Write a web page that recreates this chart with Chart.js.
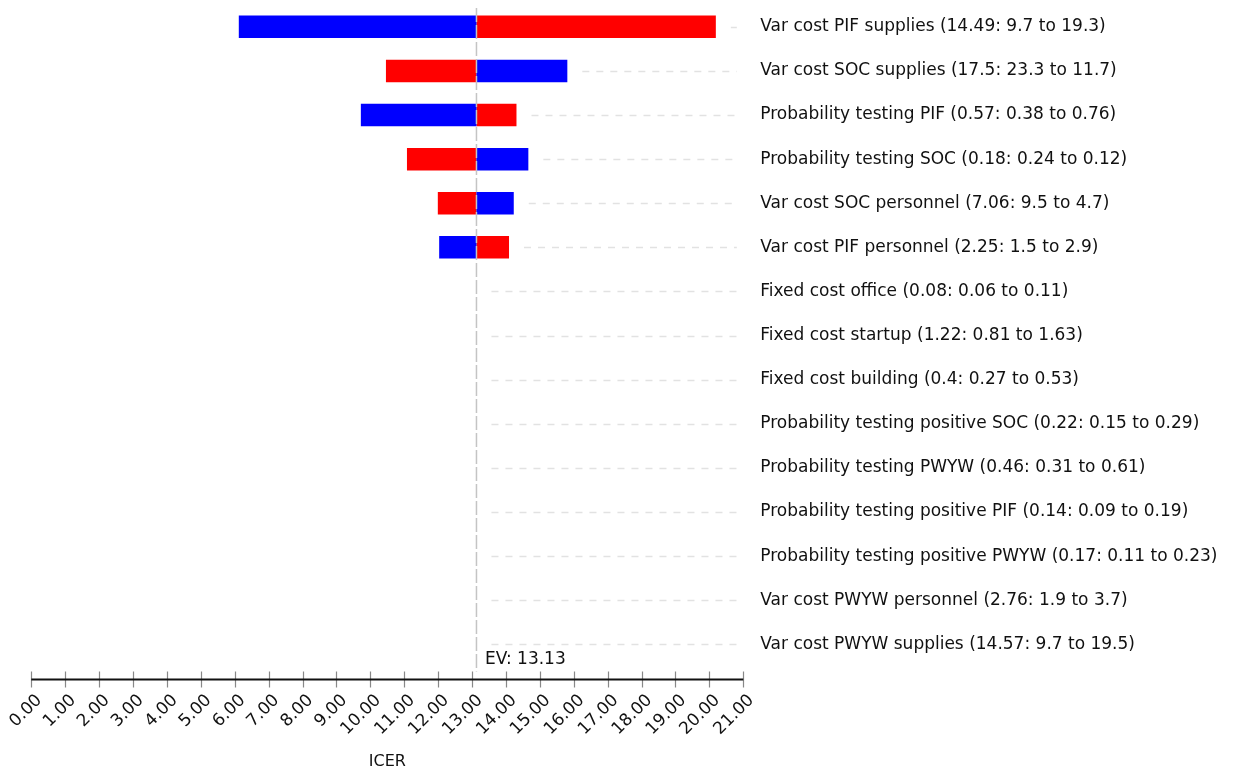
<!DOCTYPE html>
<html><head><meta charset="utf-8">
<script src="https://cdn.jsdelivr.net/npm/chart.js@4/dist/chart.umd.min.js"></script>
<style>html,body{margin:0;padding:0;background:#fff}#wrap{width:1234px;height:774px}</style>
</head><body><div id="wrap"><canvas id="c" width="1234" height="774"></canvas></div>
<script>
// ---- data ----
const paramNames = ['Var cost PIF supplies','Var cost SOC supplies','Probability testing PIF','Probability testing SOC','Var cost SOC personnel','Var cost PIF personnel','Fixed cost office','Fixed cost startup','Fixed cost building','Probability testing positive SOC','Probability testing PWYW','Probability testing positive PIF','Probability testing positive PWYW','Var cost PWYW personnel','Var cost PWYW supplies'];
const baseValues = ['14.49','17.5','0.57','0.18','7.06','2.25','0.08','1.22','0.4','0.22','0.46','0.14','0.17','2.76','14.57'];
const fromValues = ['9.7','23.3','0.38','0.24','9.5','1.5','0.06','0.81','0.27','0.15','0.31','0.09','0.11','1.9','9.7'];
const toValues = ['19.3','11.7','0.76','0.12','4.7','2.9','0.11','1.63','0.53','0.29','0.61','0.19','0.23','3.7','19.5'];
// ICER when parameter at its lower value (blue) / higher value (red)
const icerLowParam = [6.12,15.81,9.72,14.66,14.23,12.03,13.13,13.13,13.13,13.13,13.13,13.13,13.13,13.13,13.13];
const icerHighParam = [20.19,10.46,14.31,11.08,11.99,14.09,13.13,13.13,13.13,13.13,13.13,13.13,13.13,13.13,13.13];
const expectedValue = 13.13;
const xMin = 0, xMax = 21, xStep = 1;
const xTitle = 'ICER';

const categories = paramNames.map((n,i)=>`${n} (${baseValues[i]}: ${fromValues[i]} to ${toValues[i]})`);
const FONT = '"DejaVu Sans", sans-serif';

const guides = {
  id:'guides',
  beforeDatasetsDraw(chart){
    const ctx=chart.ctx, xs=chart.scales.x, ys=chart.scales.y;
    ctx.save();
    ctx.strokeStyle='#e2e2e2'; ctx.lineWidth=1.5; ctx.setLineDash([7,7]);
    const endX = xs.getPixelForValue(xMax)-6.5;
    categories.forEach((c,i)=>{
      const v=Math.max(icerLowParam[i],icerHighParam[i],expectedValue);
      const sx=xs.getPixelForValue(v)+15;
      const y=Math.round(ys.getPixelForValue(i))+0.5;
      if(sx<endX){ctx.beginPath();ctx.moveTo(sx,y);ctx.lineTo(endX,y);ctx.stroke();}
    });
    ctx.restore();
  },
  afterDatasetsDraw(chart){
    const ctx=chart.ctx, xs=chart.scales.x, ca=chart.chartArea;
    const ev=xs.getPixelForValue(expectedValue);
    ctx.save();
    ctx.strokeStyle='#c4c4c4'; ctx.lineWidth=1.5; ctx.setLineDash([14,3]);
    ctx.beginPath(); ctx.moveTo(ev,8); ctx.lineTo(ev,ca.bottom+5); ctx.stroke();
    ctx.setLineDash([]);
    ctx.fillStyle='#111'; ctx.font='17px '+FONT; ctx.textBaseline='alphabetic'; ctx.textAlign='left';
    ctx.fillText('EV: '+expectedValue.toFixed(2), ev+8.5, ca.bottom-2.5);
    // axis line with ticks
    const ay=Math.round(ca.bottom+12.6)+0.5;
    ctx.strokeStyle='#888'; ctx.lineWidth=1.2;
    xs.ticks.forEach((t,i)=>{const px=Math.round(xs.getPixelForTick(i))+0.5;ctx.beginPath();ctx.moveTo(px,ay-8);ctx.lineTo(px,ay+8);ctx.stroke();});
    ctx.strokeStyle='#111'; ctx.lineWidth=2;
    ctx.beginPath(); ctx.moveTo(xs.getPixelForValue(xMin),ay); ctx.lineTo(xs.getPixelForValue(xMax),ay); ctx.stroke();
    ctx.restore();
  }
};

new Chart(document.getElementById('c'),{
  type:'bar',
  data:{labels:categories,datasets:[
    {label:'Low value',data:icerLowParam.map(v=>[expectedValue,v]),backgroundColor:'#0000ff',grouped:false,categoryPercentage:1,barPercentage:0.51},
    {label:'High value',data:icerHighParam.map(v=>[expectedValue,v]),backgroundColor:'#ff0000',grouped:false,categoryPercentage:1,barPercentage:0.51}
  ]},
  options:{
    indexAxis:'y',responsive:false,animation:false,
    layout:{padding:{left:31.3,right:0,top:4.75,bottom:0}},
    plugins:{legend:{display:false},tooltip:{enabled:false}},
    scales:{
      x:{type:'linear',position:'bottom',min:xMin,max:xMax,
        grid:{display:false,drawTicks:false},border:{display:false},
        ticks:{stepSize:xStep,autoSkip:false,minRotation:45,maxRotation:45,padding:24,labelOffset:8,color:'#111',font:{family:FONT,size:17},callback:v=>Number(v).toFixed(2)},
        title:{display:true,text:xTitle,color:'#111',font:{family:FONT,size:16},padding:{top:0,bottom:3}},
        afterFit(s){s.height=107.6;s.paddingLeft=0;s.paddingRight=0;}
      },
      y:{type:'category',position:'right',offset:true,
        grid:{display:false,drawTicks:false},border:{display:false},
        ticks:{padding:17,color:'#111',font:{family:FONT,size:17},autoSkip:false},
        afterFit(s){s.width=490.7;s.paddingTop=0;s.paddingBottom=0;}
      }
    }
  },
  plugins:[guides]
});
</script></body></html>
